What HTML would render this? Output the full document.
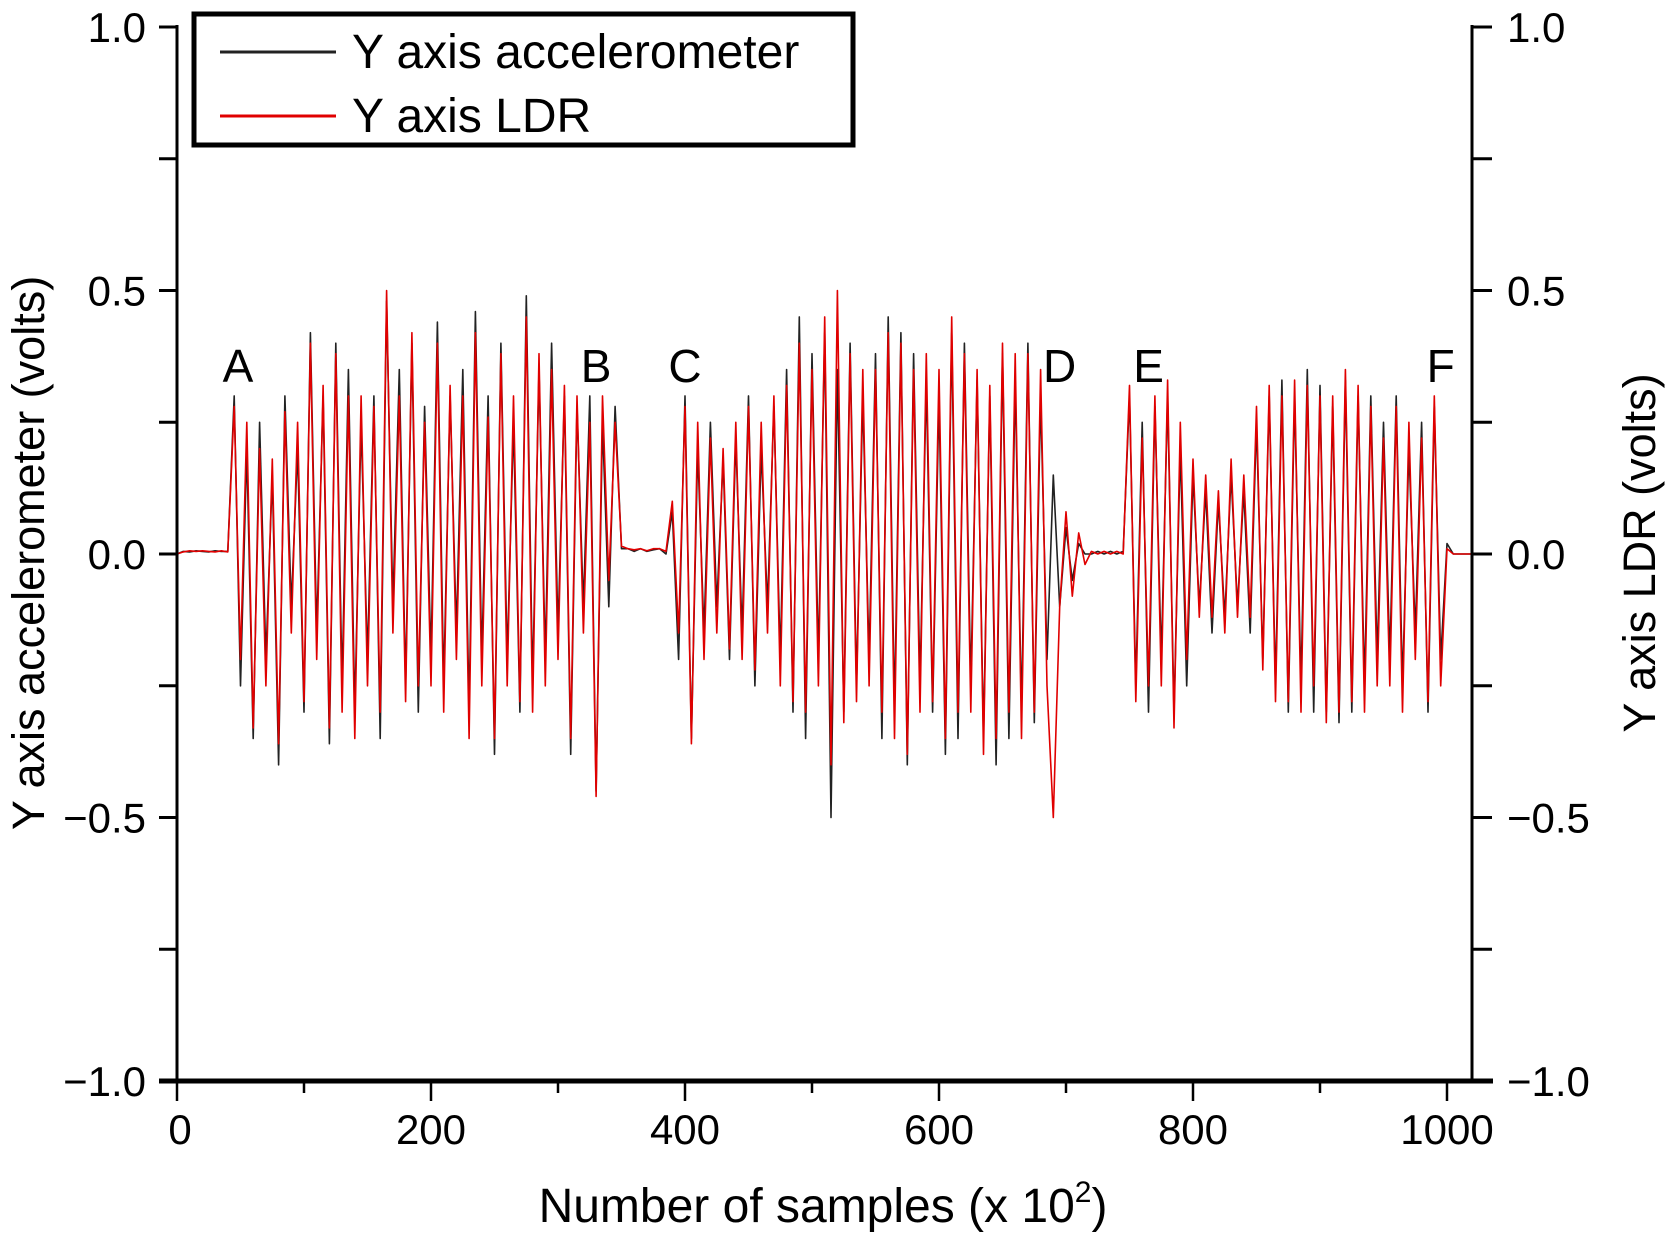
<!DOCTYPE html>
<html><head><meta charset="utf-8"><style>
html,body{margin:0;padding:0;background:#fff}
svg{display:block;font-family:"Liberation Sans",sans-serif}
</style></head><body>
<svg id="chart" width="1666" height="1234" viewBox="0 0 1666 1234">
<g id="plot"></g>
</svg>
<script>
const xStep = 5;
const accValues = [0,0.005,0.004,0.006,0.005,0.004,0.006,0.005,0.005,
0.3,-0.25,0.2,-0.35,0.25,-0.2,0.15,-0.4,0.3,-0.1,
0.2,-0.3,0.42,-0.15,0.3,-0.36,0.4,-0.25,0.35,-0.3,
0.25,-0.2,0.3,-0.35,0.48,-0.1,0.35,-0.25,0.4,-0.3,
0.28,-0.2,0.44,-0.25,0.3,-0.15,0.35,-0.3,0.46,-0.2,
0.3,-0.38,0.4,-0.2,0.25,-0.3,0.49,-0.25,0.35,-0.2,
0.4,-0.15,0.3,-0.38,0.28,-0.1,0.3,-0.45,0.25,-0.1,0.28,
0.01,0.01,0.005,0.01,0.005,0.008,0.01,0.0,
0.08,-0.2,0.3,-0.35,0.2,-0.15,0.25,-0.1,0.18,-0.2,
0.22,-0.15,0.3,-0.25,0.2,-0.1,0.28,-0.2,0.35,-0.3,
0.45,-0.35,0.38,-0.2,0.42,-0.5,0.35,-0.3,0.4,-0.25,
0.3,-0.2,0.38,-0.35,0.45,-0.3,0.42,-0.4,0.38,-0.25,
0.33,-0.3,0.3,-0.38,0.42,-0.35,0.4,-0.25,0.33,-0.35,
0.3,-0.4,0.38,-0.35,0.33,-0.3,0.4,-0.32,0.3,-0.2,
0.15,-0.1,0.05,-0.05,0.02,0.0,
0.0,0.005,0.0,0.005,0.0,0.005,
0.3,-0.25,0.25,-0.3,0.28,-0.2,0.3,-0.3,0.2,-0.25,
0.15,-0.1,0.12,-0.15,0.1,-0.12,0.15,-0.1,0.12,-0.15,
0.25,-0.2,0.3,-0.25,0.33,-0.3,0.3,-0.25,0.35,-0.3,
0.32,-0.3,0.28,-0.32,0.33,-0.3,0.3,-0.25,0.3,-0.2,
0.25,-0.2,0.3,-0.25,0.2,-0.15,0.25,-0.3,0.28,-0.2,
0.02,0,0,0,0];
const ldrValues = [0,0.004,0.006,0.005,0.006,0.005,0.004,0.006,0.004,
0.28,-0.2,0.25,-0.33,0.2,-0.25,0.18,-0.36,0.27,-0.15,
0.25,-0.28,0.4,-0.2,0.32,-0.33,0.38,-0.3,0.3,-0.35,
0.3,-0.25,0.28,-0.3,0.5,-0.15,0.3,-0.28,0.42,-0.25,
0.25,-0.25,0.4,-0.3,0.32,-0.2,0.3,-0.35,0.42,-0.25,
0.26,-0.35,0.38,-0.25,0.3,-0.28,0.45,-0.3,0.38,-0.25,
0.35,-0.2,0.32,-0.35,0.3,-0.15,0.25,-0.46,0.3,-0.05,0.25,
0.015,0.01,0.008,0.01,0.006,0.01,0.01,0.005,
0.1,-0.15,0.28,-0.36,0.25,-0.2,0.22,-0.15,0.2,-0.18,
0.25,-0.2,0.28,-0.22,0.25,-0.15,0.3,-0.25,0.32,-0.28,
0.4,-0.3,0.35,-0.25,0.45,-0.4,0.5,-0.32,0.38,-0.28,
0.35,-0.25,0.35,-0.3,0.42,-0.35,0.4,-0.38,0.35,-0.3,
0.38,-0.28,0.35,-0.35,0.45,-0.3,0.38,-0.3,0.35,-0.38,
0.32,-0.35,0.4,-0.3,0.38,-0.35,0.38,-0.3,0.35,-0.25,
-0.5,-0.1,0.08,-0.08,0.04,-0.02,
0.005,0.0,0.005,0.0,0.005,0.0,
0.32,-0.28,0.22,-0.25,0.3,-0.25,0.33,-0.33,0.25,-0.2,
0.18,-0.12,0.15,-0.12,0.12,-0.15,0.18,-0.12,0.15,-0.12,
0.28,-0.22,0.32,-0.28,0.3,-0.28,0.33,-0.3,0.32,-0.25,
0.3,-0.32,0.3,-0.3,0.35,-0.28,0.32,-0.3,0.28,-0.25,
0.22,-0.25,0.28,-0.3,0.25,-0.2,0.22,-0.28,0.3,-0.25,
0.01,0,0,0,0];
const xTickLabels = ["0","200","400","600","800","1000"];
const yTickLabels = ["1.0","0.5","0.0","\u22120.5","\u22121.0"];
const letterLabels = ["A","B","C","D","E","F"];
const letterX = [48,330,400,695,765,995];

const NS="http://www.w3.org/2000/svg";
const svg=document.getElementById('chart');
const X0=177,X1000=1447,Y1=27,Ym1=1081,RX=1472,XEND=1493;
const xs=v=>X0+(X1000-X0)*v/1000;
const ys=v=>Ym1-(Ym1-Y1)*(v+1)/2;
function mk(tag,attrs,parent){const e=document.createElementNS(NS,tag);for(const k in attrs)e.setAttribute(k,attrs[k]);(parent||svg).appendChild(e);return e;}

function series(vals,color,name){
  const d=vals.map((v,i)=>(i?'L':'M')+xs(i*xStep).toFixed(1)+' '+ys(v).toFixed(1)).join(' ');
  const p=mk('path',{d:d,fill:'none',stroke:color,'stroke-width':1.6,'stroke-linejoin':'round'});
  
  
}
series(accValues,'#222','accelerometer-line');
series(ldrValues,'#e00000','ldr-line');

let a=mk('line',{x1:X0,y1:Y1-2,x2:X0,y2:Ym1,stroke:'#000','stroke-width':3});


a=mk('line',{x1:RX,y1:Y1-2,x2:RX,y2:Ym1,stroke:'#000','stroke-width':3});


a=mk('line',{x1:X0-18,y1:Ym1,x2:XEND,y2:Ym1,stroke:'#000','stroke-width':5});



for(let k=0;k<=8;k++){
  const v=1-k*0.25, y=ys(v), major=k%2===0;
  mk('line',{x1:X0-18,y1:y,x2:X0,y2:y,stroke:'#000','stroke-width':3});
  mk('line',{x1:RX,y1:y,x2:RX+20,y2:y,stroke:'#000','stroke-width':3});
  if(major){
    const t=mk('text',{x:146,y:y+15,'text-anchor':'end','font-size':42});
    t.textContent=yTickLabels[k/2];
    
    
    const t2=mk('text',{x:1507,y:y+15,'text-anchor':'start','font-size':42});
    t2.textContent=yTickLabels[k/2];
    
    
  }
}
for(let k=0;k<=10;k++){
  const x=xs(k*100), major=k%2===0;
  mk('line',{x1:x,y1:Ym1,x2:x,y2:Ym1+(major?20:12),stroke:'#000','stroke-width':2.5});
  if(major){
    const t=mk('text',{x:x+(k===0?3:0),y:1144,'text-anchor':'middle','font-size':42});
    t.textContent=xTickLabels[k/2];
    
    
  }
}
letterLabels.forEach((L,i)=>{
  const t=mk('text',{x:xs(letterX[i]),y:382,'text-anchor':'middle','font-size':46});
  t.textContent=L;
  
  
});
</script>
<svg style="position:absolute;left:0;top:0" width="1666" height="1234">
<g font-family="Liberation Sans, sans-serif">
<rect x="194" y="14" width="659" height="131" fill="#fff" stroke="#000" stroke-width="5"/>
<line x1="220" y1="52" x2="336" y2="52" stroke="#222" stroke-width="3"/>
<text x="352" y="68" font-size="48">Y axis accelerometer</text>
<line x1="220" y1="116" x2="336" y2="116" stroke="#e00000" stroke-width="3"/>
<text x="352" y="132" font-size="48">Y axis LDR</text>
<text transform="translate(44,553) rotate(-90)" text-anchor="middle" font-size="45">Y axis accelerometer (volts)</text>
<text transform="translate(1655,553) rotate(-90)" text-anchor="middle" font-size="45">Y axis LDR (volts)</text>
<text x="823" y="1222" text-anchor="middle" font-size="48">Number of samples (x 10<tspan font-size="30" dy="-20">2</tspan><tspan dy="20">)</tspan></text>
</g>
</svg>
</body></html>
